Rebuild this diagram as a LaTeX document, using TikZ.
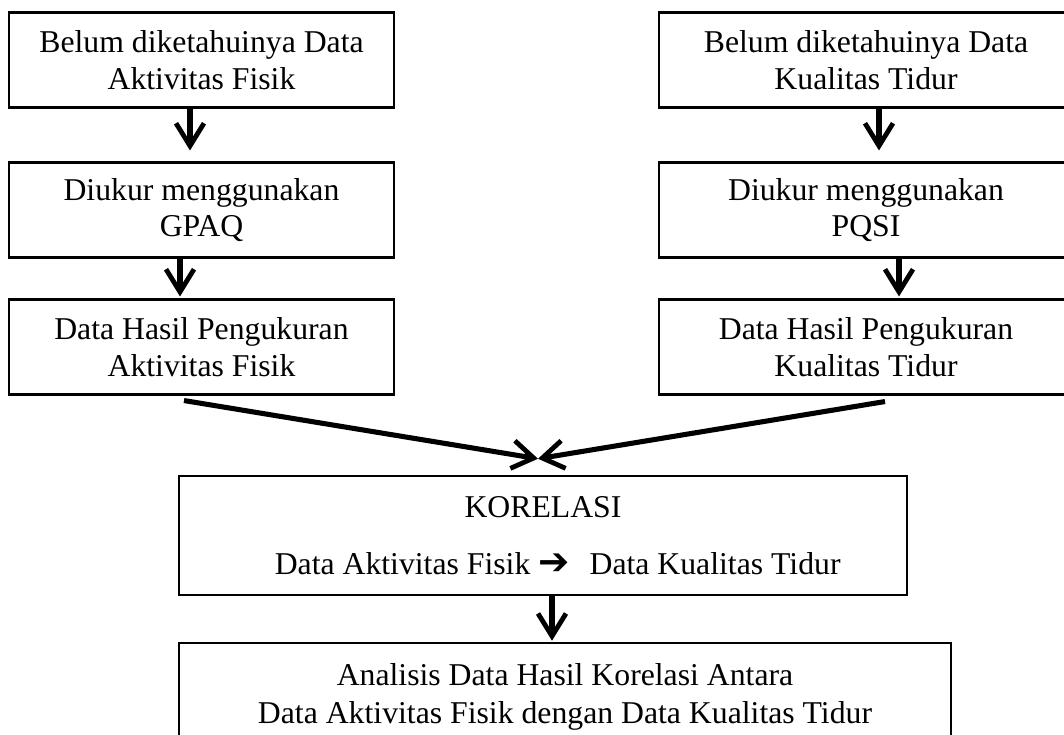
\documentclass[tikz,border=0pt]{standalone}
\usepackage{fontspec}
\setmainfont{Liberation Serif}
\newfontfamily\symfont{DejaVu Sans}
\usetikzlibrary{arrows.meta,calc}
\begin{document}
\begin{tikzpicture}[x=0.75pt,y=-0.75pt,
  box/.style={draw,line width=1.9pt,inner sep=0pt,align=center,
    font=\fontsize{23.8}{27.5}\selectfont},
  leftbox/.style={box,minimum width=288.75pt,minimum height=70.9pt},
  rightbox/.style={box,minimum width=310.5pt,minimum height=70.9pt},
  downarrow/.style={line width=4.6pt,-{Straight Barb[length=17pt,width=21pt,line width=3.6pt]}},
  mergearrow/.style={line width=3.8pt,-{Straight Barb[length=16pt,width=21pt,line width=3.6pt]}}
]
\useasboundingbox (0,0) rectangle (1064,735);

\node[leftbox] (L1) at (201.5,60) {Belum diketahuinya Data\\Aktivitas Fisik};
\node[leftbox] (L2) at (201.5,210) {Diukur menggunakan\\GPAQ};
\node[leftbox] (L3) at (201.5,347) {Data Hasil Pengukuran\\Aktivitas Fisik};

\node[rightbox] (R1) at (866,60) {Belum diketahuinya Data\\Kualitas Tidur};
\node[rightbox] (R2) at (866,210) {Diukur menggunakan\\PQSI};
\node[rightbox] (R3) at (866,347) {Data Hasil Pengukuran\\Kualitas Tidur};

\node[box,minimum width=546pt,minimum height=89.25pt] (K) at (543,535.5)
  {KORELASI\\[15.5pt]\hspace*{22pt}Data Aktivitas Fisik {\symfont\fontsize{28}{28}\selectfont ➔}\hspace{15pt}Data Kualitas Tidur};

\node[box,minimum width=579pt,minimum height=81pt,
  font=\fontsize{23.8}{28.5}\selectfont] (A) at (565,697)
  {Analisis Data Hasil Korelasi Antara\\Data Aktivitas Fisik dengan Data Kualitas Tidur};

\draw[downarrow] ($(L1.south)+(-11.5,0)$) -- ($(L2.north)+(-11.5,-11)$);
\draw[downarrow] ($(L2.south)+(-21.5,0)$) -- ($(L3.north)+(-21.5,-2)$);
\draw[downarrow] ($(R1.south)+(13,0)$) -- ($(R2.north)+(13,-11)$);
\draw[downarrow] ($(R2.south)+(33,0)$) -- ($(R3.north)+(33,-2)$);

\coordinate (meet) at ($(K.north)+(-5,-16)$);
\draw[mergearrow] ($(L3.south)+(-17.5,5)$) -- (meet);
\draw[mergearrow] ($(R3.south)+(19,6)$) -- (meet);

\draw[downarrow] ($(K.south)+(9,0)$) -- ($(A.north)+(-13,-1)$);
\end{tikzpicture}
\end{document}
